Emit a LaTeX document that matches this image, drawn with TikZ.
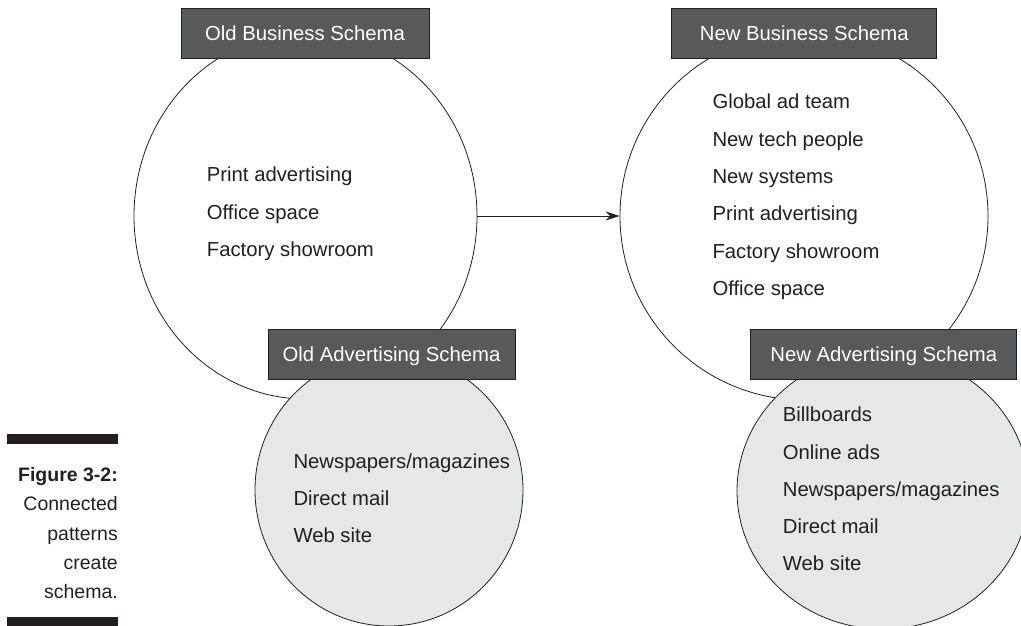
\documentclass[tikz,border=0pt]{standalone}
\usepackage{fontspec}
\setmainfont{Liberation Sans}
\usetikzlibrary{shapes.geometric,arrows.meta}

\definecolor{boxgray}{RGB}{88,89,91}
\definecolor{circlegray}{RGB}{230,231,232}
\definecolor{inkblack}{RGB}{35,31,32}

\tikzset{schema/.style={ellipse,draw=inkblack,line width=0.8pt,inner sep=0pt}}
\tikzset{adschema/.style={schema,fill=circlegray}}
\tikzset{schemalabel/.style={draw=inkblack,fill=boxgray,text=white,line width=0.8pt,minimum height=50pt,inner sep=0pt,text height=14.5pt,text depth=0pt,font=\fontsize{20.3}{24}\selectfont}}
\tikzset{itemlist/.style={anchor=base west,inner sep=0pt,text=inkblack,font=\fontsize{20.3}{37.3}\selectfont}}
\tikzset{earrow/.style={-{Stealth[length=14pt,width=9pt]},line width=0.8pt,draw=inkblack}}
\newcommand{\itemcol}[1]{\begin{tabular}[t]{@{}l@{}}#1\end{tabular}}

\begin{document}
\begin{tikzpicture}[x=1pt,y=-1pt]
        \useasboundingbox (0,0) rectangle (1021,626);
        \clip (0,0) rectangle (1021,626);
        % draw the business circles
        \node[schema,minimum width=343pt,minimum height=366pt] (oldbiz) at (305.5,216) {};
        \node[schema,minimum width=368pt,minimum height=368pt] (newbiz) at (804,216) {};
        \draw[earrow] (oldbiz.east) -- (newbiz.west);
        % draw the advertising circles (grey)
        \node[adschema,minimum width=268pt,minimum height=272pt] (oldad) at (389,490) {};
        \node[adschema,minimum width=292pt,minimum height=276pt] (newad) at (883,491) {};
        % the dark labels
        \node[schemalabel,minimum width=248pt] (oldbizlabel) at (305,33) {Old Business Schema};
        \node[schemalabel,minimum width=265pt] (newbizlabel) at (804.3,33) {New Business Schema};
        \node[schemalabel,minimum width=247pt] (oldadlabel) at (391.5,354) {Old Advertising Schema};
        \node[schemalabel,minimum width=266pt] (newadlabel) at (883.8,354) {New Advertising Schema};
        % the contents
        \node[itemlist] (oldbizitems) at (206.7,181.7) {\itemcol{Print advertising\\Office space\\Factory showroom}};
        \node[itemlist] (newbizitems) at (712.3,109) {\itemcol{Global ad team\\New tech people\\New systems\\Print advertising\\Factory showroom\\Office space}};
        \node[itemlist] (oldaditems) at (293.3,468.3) {\itemcol{Newspapers/magazines\\Direct mail\\Web site}};
        \node[itemlist] (newaditems) at (782.7,421.7) {\itemcol{Billboards\\Online ads\\Newspapers/magazines\\Direct mail\\Web site}};
        % caption with bars
        \fill[inkblack] (7,434) rectangle (118,444);
        \fill[inkblack] (7,617) rectangle (118,627);
        \node[anchor=base east,inner sep=0pt,text=inkblack,font=\fontsize{19.5}{29.2}\selectfont] (caption) at (118,481.7)
            {\begin{tabular}[t]{@{}r@{}}\textbf{Figure 3-2:}\\Connected\\patterns\\create\\schema.\end{tabular}};
    \end{tikzpicture}
\end{document}
